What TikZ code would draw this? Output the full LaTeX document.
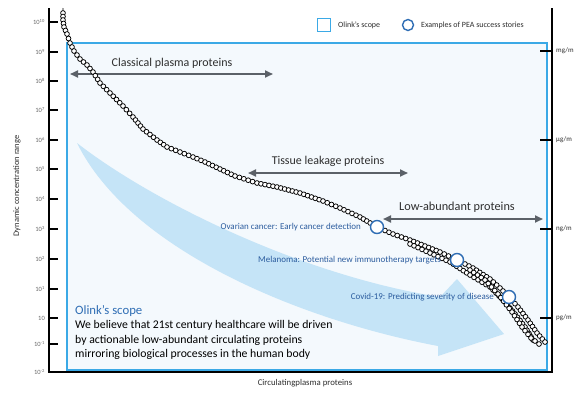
\documentclass[tikz,border=0pt]{standalone}
\usepackage{fontspec}
\setmainfont{Carlito}
\usetikzlibrary{arrows.meta}
\definecolor{scopeblue}{HTML}{3BA9E6}
\definecolor{scopefill}{HTML}{F4F9FD}
\definecolor{bandblue}{HTML}{C5E4F7}
\definecolor{peablue}{HTML}{2E6DB4}
\definecolor{anntext}{HTML}{2B5C9E}
\definecolor{arrowgrey}{HTML}{5B6168}
\definecolor{textdark}{HTML}{2E2E2E}
\definecolor{ticktext}{HTML}{6A6A6A}
\tikzset{
  axisline/.style={draw=black, line width=2bp},
  tickline/.style={draw=black, line width=1.8bp},
  ticklbl/.style={font=\fontsize{6.5}{7}\selectfont, text=ticktext, anchor=east, inner sep=0pt},
  unitlbl/.style={font=\fontsize{7}{8}\selectfont, text=textdark, anchor=west, inner sep=0pt},
  rangearrow/.style={draw=arrowgrey, line width=1.8bp, {Triangle[length=8bp,width=7bp]}-{Triangle[length=8bp,width=7bp]}},
  rangelbl/.style={font=\fontsize{12}{14}\selectfont, text=textdark, inner sep=0pt},
  pea/.style={circle, draw=peablue, fill=white, line width=1.4bp, minimum size=13bp, inner sep=0pt},
  anno/.style={font=\fontsize{9}{10}\selectfont, text=anntext, anchor=east, inner sep=0pt},
  chainline/.style={draw=black, line width=0.8bp},
  chaindot/.style={draw=black, fill=white, line width=0.75bp},
  legtext/.style={font=\fontsize{8}{9}\selectfont, text=textdark, anchor=west, inner sep=0pt},
  bodytext/.style={anchor=base west, inner sep=0pt, font=\fontsize{11.8}{14}\selectfont, text=black}
}
\newcommand\mydotchain[3]{%
  \foreach \qx/\qy [remember=\qx as \px (initially #1), remember=\qy as \py (initially #2)] in {#3}{%
    \pgfmathsetmacro\dd{veclen(\qx-\px,\qy-\py)}%
    \pgfmathtruncatemacro\nn{max(1,round(\dd/4.3))}%
    \foreach \k in {1,...,\nn}{%
      \pgfmathsetmacro\cx{\px+(\qx-\px)*\k/\nn}%
      \pgfmathsetmacro\cy{\py+(\qy-\py)*\k/\nn}%
      \draw[chaindot] (\cx,\cy) circle (2.4bp);
    }%
  }%
}
\begin{document}
\begin{tikzpicture}[x=1bp,y=-1bp]
\useasboundingbox (0,0) rectangle (574,394);
\fill[white] (0,0) rectangle (574,394);

% scope box
\node[draw=scopeblue, fill=scopefill, line width=2bp, minimum width=480bp, minimum height=327bp, inner sep=0pt, anchor=north west] (scope) at (66,42) {};

% big curved band arrow
\fill[bandblue] (77,143) .. controls (150,200) and (300,275) .. (440,297)
  -- (457,279) -- (504,334) -- (438,356) -- (438,346)
  .. controls (300,320) and (130,250) .. (77,143) -- cycle;

% axes
\coordinate (yl0) at (49,8);
\coordinate (org) at (49,372);
\coordinate (xr) at (552,372);
\coordinate (yr0) at (552,8);
\draw[axisline] (yl0) -- (org) -- (xr) -- (yr0);

% left ticks
\foreach \yy/\lab [count=\i] in {22/{10\textsuperscript{10}},52/{10\textsuperscript{9}},81/{10\textsuperscript{8}},110/{10\textsuperscript{7}},140/{10\textsuperscript{6}},169/{10\textsuperscript{5}},199/{10\textsuperscript{4}},229/{10\textsuperscript{3}},259/{10\textsuperscript{2}},289/{10\textsuperscript{1}},318/{10},344/{10\textsuperscript{-1}}}{
  \draw[tickline] (49,\yy) -- (58,\yy);
  \node[ticklbl] (tl\i) at (45,\yy) {\lab};
}
\node[ticklbl] (tl13) at (45,372) {10\textsuperscript{-2}};

% right ticks
\foreach \yy/\lab [count=\i] in {51/{mg/m},140/{μg/m},229/{ng/m},318/{pg/m}}{
  \draw[tickline] (540,\yy) -- (552,\yy);
  \node[unitlbl] (ul\i) at (556,\yy) {\lab};
}

% axis titles
\node[rotate=90, font=\fontsize{8.5}{9}\selectfont, text=textdark] (ytitle) at (17,186) {Dynamic concentration range};
\node[font=\fontsize{8.8}{9}\selectfont, text=textdark] (xtitle) at (305,383) {Circulatingplasma proteins};

% legend
\node[draw=scopeblue, line width=1.6bp, minimum size=13bp, inner sep=0pt] (legsq) at (324,25) {};
\node[legtext] (legsqt) at (338,25) {Olink's scope};
\node[circle, draw=peablue, line width=1.4bp, minimum size=11bp, inner sep=0pt] (legci) at (408,25) {};
\node[legtext] (legcit) at (421,25) {Examples of PEA success stories};

% range arrows
\coordinate (ca) at (70,74);   \coordinate (cb) at (273,74);
\coordinate (ta) at (248,173); \coordinate (tb) at (408,173);
\coordinate (la) at (383,219); \coordinate (lb) at (543,219);
\draw[rangearrow] (ca) -- (cb);
\draw[rangearrow] (ta) -- (tb);
\draw[rangearrow] (la) -- (lb);
\node[rangelbl] (clbl) at (172,63) {Classical plasma proteins};
\node[rangelbl] (tlbl) at (328,161) {Tissue leakage proteins};
\node[rangelbl, font=\fontsize{12.3}{14}\selectfont] (llbl) at (457,207) {Low-abundant proteins};

% data chains
\draw[chainline] plot[smooth, tension=0.5] coordinates {(63,8) (63,20) (64,27) (67,34) (70,43) (74,51) (80,59) (87,65) (93,72) (100,83) (110,93) (123,106) (133,117) (143,129) (157,140) (167,147) (180,152) (193,157) (205,162) (220,169) (235,176) (257,183) (277,187) (300,193) (323,201) (340,208) (360,217) (377,227) (393,234) (410,240) (425,246) (440,252) (457,260) (473,268) (490,279) (500,288) (509,297) (518,307) (528,320) (537,333) (545,342)};
\draw[chainline] plot[smooth, tension=0.5] coordinates {(410,244) (430,253) (450,262) (470,275) (490,287) (505,302) (515,314) (525,327) (533,340)};
\draw[chainline] plot[smooth, tension=0.5] coordinates {(470,270) (485,280) (498,294) (512,312) (522,327) (531,338) (539,344)};
\mydotchain{63}{13}{63/13,63/20,64/27,67/34,70/43,74/51,80/59,87/65,93/72,100/83,110/93,123/106,133/117,143/129,157/140,167/147,180/152,193/157,205/162,220/169,235/176,257/183,277/187,300/193,323/201,340/208,360/217,377/227,393/234,410/240,425/246,440/252,457/260,473/268,490/279,500/288,509/297,518/307,528/320,537/333,545/342}
\mydotchain{410}{244}{410/244,430/253,450/262,470/275,490/287,505/302,515/314,525/327,533/340}
\mydotchain{470}{270}{470/270,485/280,498/294,512/312,522/327,531/338,539/344}

% PEA examples
\node[pea] (ov) at (377,227) {};
\node[pea] (mel) at (457,260) {};
\node[pea] (cov) at (509,297) {};
\node[anno] (ovt) at (361,227) {Ovarian cancer: Early cancer detection};
\node[anno] (melt) at (441,260) {Melanoma: Potential new immunotherapy targets};
\node[anno] (covt) at (494,297) {Covid-19: Predicting severity of disease};

% scope text
\node[anchor=base west, inner sep=0pt, font=\fontsize{12.8}{14}\selectfont, text=peablue] (sh) at (75,314) {Olink's scope};
\node[bodytext] (sb1) at (75,328.5) {We believe that 21st century healthcare will be driven};
\node[bodytext] (sb2) at (75,343) {by actionable low-abundant circulating proteins};
\node[bodytext] (sb3) at (75,357.5) {mirroring biological processes in the human body};
\end{tikzpicture}
\end{document}
